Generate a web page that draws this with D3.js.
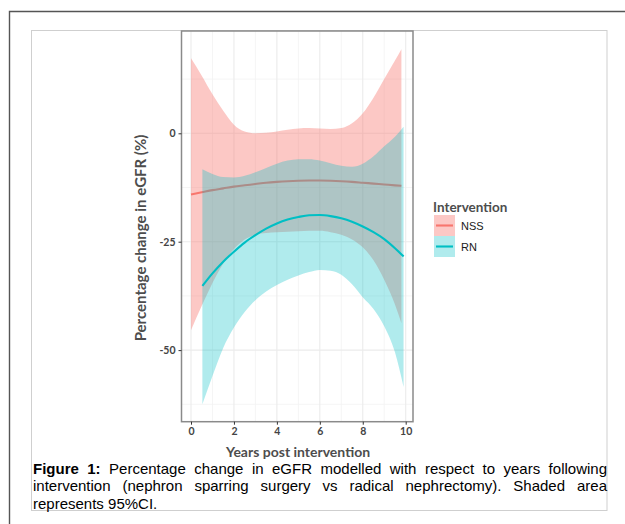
<!DOCTYPE html>
<html>
<head>
<meta charset="utf-8">
<script src="https://cdn.jsdelivr.net/npm/d3@7"></script>
<style>
  html, body { margin: 0; padding: 0; background: #fff; }
  #wrap { position: relative; width: 625px; height: 524px; overflow: hidden; }
  svg { position: absolute; left: 0; top: 0; }
  #caption {
    position: absolute; left: 33px; top: 460px; width: 574px;
    font-family: "Liberation Sans", Arial, sans-serif; font-size: 15px;
    line-height: 17.3px; text-align: justify; color: #000;
  }
</style>
</head>
<body>
<div id="wrap">
<svg id="chart" width="625" height="524"></svg>
<div id="caption"><b>Figure 1:</b> Percentage change in eGFR modelled with respect to years following intervention (nephron sparring surgery vs radical nephrectomy). Shaded area represents 95%CI.</div>
</div>
<script>
// ---- Data ----
const seriesNames = ["NSS", "RN"];
const seriesColors = ["#F8766D", "#00BFC4"];

const nssYears = [0, 0.5, 1, 1.5, 2, 2.5, 3, 3.5, 4, 4.5, 5, 5.5, 6, 6.5, 7, 7.5, 8, 8.5, 9, 9.5, 9.8];
const nssFit   = [-14.1, -13.6, -13.1, -12.7, -12.3, -12.0, -11.7, -11.4, -11.2, -11.05, -10.95, -10.9, -10.9, -10.95, -11.05, -11.2, -11.4, -11.6, -11.8, -12.0, -12.1];
const nssUpper = [17.3, 13.3, 9.0, 5.2, 2.0, 0.4, 0.0, 0.1, 0.4, 0.8, 1.1, 1.2, 1.1, 1.0, 1.2, 2.3, 4.6, 8.2, 12.5, 16.8, 19.4];
const nssLower = [-45.4, -39.8, -34.5, -30.0, -26.7, -24.5, -23.4, -23.0, -22.8, -22.7, -22.6, -22.5, -22.5, -22.8, -23.4, -24.5, -26.3, -29.3, -33.8, -39.5, -43.8];

const rnYears = [0.53, 1, 1.5, 2, 2.5, 3, 3.5, 4, 4.5, 5, 5.5, 6, 6.5, 7, 7.5, 8, 8.5, 9, 9.5, 9.9];
const rnFit   = [-35.2, -32.3, -29.6, -27.3, -25.2, -23.5, -22.0, -20.8, -19.9, -19.3, -18.9, -18.85, -19.1, -19.6, -20.4, -21.5, -22.8, -24.4, -26.5, -28.4];
const rnUpper = [-8.3, -9.4, -10.1, -10.2, -9.8, -9.0, -8.0, -7.0, -6.3, -6.0, -6.0, -6.3, -6.9, -7.5, -7.7, -7.0, -5.3, -3.0, -0.8, 1.5];
const rnLower = [-62.5, -56.0, -49.5, -44.8, -41.2, -38.5, -36.5, -35.0, -33.8, -32.8, -32.0, -31.5, -31.7, -32.6, -34.8, -37.8, -40.5, -44.5, -50.5, -58.5];

const xMajorTicks = [0, 2, 4, 6, 8, 10];
const xMinorTicks = [1, 3, 5, 7, 9];
const yMajorTicks = [0, -25, -50];
const yMinorTicks = [12.5, -12.5, -37.5, -62.5];

// ---- Layout ----
const svg = d3.select("#chart");
const panel = { left: 181.5, top: 31, right: 413, bottom: 421.7 };

const x = d3.scaleLinear().domain([0, 10]).range([191, 405.7]);
const y = d3.scaleLinear().domain([0, -25]).range([133.3, 241.7]);

// outer frame & inner box
svg.append("path").attr("d", "M9.5,524 L9.5,11.5 L626,11.5")
  .attr("fill", "none").attr("stroke", "#555").attr("stroke-width", 1.4);
svg.append("rect").attr("x", 31.5).attr("y", 30.5).attr("width", 575.5).attr("height", 480)
  .attr("fill", "none").attr("stroke", "#cfcfcf").attr("stroke-width", 1);

// panel background
svg.append("rect").attr("x", panel.left).attr("y", panel.top)
  .attr("width", panel.right - panel.left).attr("height", panel.bottom - panel.top)
  .attr("fill", "#fff");

const grid = svg.append("g");
grid.selectAll(".xmin").data(xMinorTicks).join("line")
  .attr("x1", d => x(d)).attr("x2", d => x(d)).attr("y1", panel.top).attr("y2", panel.bottom)
  .attr("stroke", "#f2f2f2").attr("stroke-width", 0.8);
grid.selectAll(".ymin").data(yMinorTicks).join("line")
  .attr("y1", d => y(d)).attr("y2", d => y(d)).attr("x1", panel.left).attr("x2", panel.right)
  .attr("stroke", "#f2f2f2").attr("stroke-width", 0.8);
grid.selectAll(".xmaj").data(xMajorTicks).join("line")
  .attr("x1", d => x(d)).attr("x2", d => x(d)).attr("y1", panel.top).attr("y2", panel.bottom)
  .attr("stroke", "#ebebeb").attr("stroke-width", 1.1);
grid.selectAll(".ymaj").data(yMajorTicks).join("line")
  .attr("y1", d => y(d)).attr("y2", d => y(d)).attr("x1", panel.left).attr("x2", panel.right)
  .attr("stroke", "#ebebeb").attr("stroke-width", 1.1);

// ---- Series ----
function build(years, fit, lo, hi) {
  return years.map((t, i) => ({ t, fit: fit[i], lo: lo[i], hi: hi[i] }));
}
const series = [
  { name: seriesNames[0], color: seriesColors[0], alpha: 0.4, data: build(nssYears, nssFit, nssLower, nssUpper) },
  { name: seriesNames[1], color: seriesColors[1], alpha: 0.31, data: build(rnYears, rnFit, rnLower, rnUpper) }
];

const area = d3.area().x(d => x(d.t)).y0(d => y(d.lo)).y1(d => y(d.hi)).curve(d3.curveMonotoneX);
const line = d3.line().x(d => x(d.t)).y(d => y(d.fit)).curve(d3.curveMonotoneX);

const plot = svg.append("g");
series.forEach(s => {
  plot.append("path").datum(s.data).attr("d", area)
    .attr("fill", s.color).attr("fill-opacity", s.alpha);
  plot.append("path").datum(s.data).attr("d", line)
    .attr("fill", "none").attr("stroke", s.color).attr("stroke-width", 2.1);
});

// panel border
svg.append("rect").attr("x", panel.left).attr("y", panel.top)
  .attr("width", panel.right - panel.left).attr("height", panel.bottom - panel.top)
  .attr("fill", "none").attr("stroke", "#8a8a8a").attr("stroke-width", 1.5);

// ---- Axes ----
const axisFont = "Lato, 'Open Sans', sans-serif";
const fmt = d => String(d);
const xAxis = svg.append("g").attr("transform", `translate(0,${panel.bottom})`)
  .call(d3.axisBottom(x).tickValues(xMajorTicks).tickFormat(fmt).tickSize(3).tickPadding(3));
const yAxis = svg.append("g").attr("transform", `translate(${panel.left},0)`)
  .call(d3.axisLeft(y).tickValues(yMajorTicks).tickFormat(fmt).tickSize(3).tickPadding(3));
[xAxis, yAxis].forEach(a => {
  a.select(".domain").remove();
  a.selectAll(".tick line").attr("stroke", "#333").attr("stroke-width", 1);
  a.selectAll(".tick text").attr("fill", "#444").style("font-family", axisFont)
    .style("font-size", "10.5px").style("font-weight", "bold");
});

svg.append("text").attr("x", 298).attr("y", 457).attr("text-anchor", "middle")
  .style("font-family", axisFont).style("font-size", "14px").style("font-weight", "bold")
  .attr("fill", "#4d4d4d").text("Years post intervention");

svg.append("text").attr("transform", "translate(146,238) rotate(-90)").attr("text-anchor", "middle")
  .style("font-family", axisFont).style("font-size", "15px").style("font-weight", "bold")
  .attr("fill", "#4d4d4d").text("Percentage change in eGFR (%)");

// ---- Legend ----
const legend = svg.append("g");
legend.append("text").attr("x", 433).attr("y", 212)
  .style("font-family", axisFont).style("font-size", "13.5px").style("font-weight", "bold")
  .attr("fill", "#4d4d4d").text("Intervention");
series.forEach((s, i) => {
  const top = 215 + i * 21;
  legend.append("rect").attr("x", 434).attr("y", top).attr("width", 21).attr("height", 21)
    .attr("fill", s.color).attr("fill-opacity", s.alpha);
  legend.append("line").attr("x1", 436).attr("x2", 453).attr("y1", top + 10.5).attr("y2", top + 10.5)
    .attr("stroke", s.color).attr("stroke-width", 2.1);
  legend.append("text").attr("x", 461).attr("y", top + 14.5)
    .style("font-family", "'Liberation Sans', Arial, sans-serif").style("font-size", "11px")
    .attr("fill", "#1a1a1a").text(s.name);
});
</script>
</body>
</html>
